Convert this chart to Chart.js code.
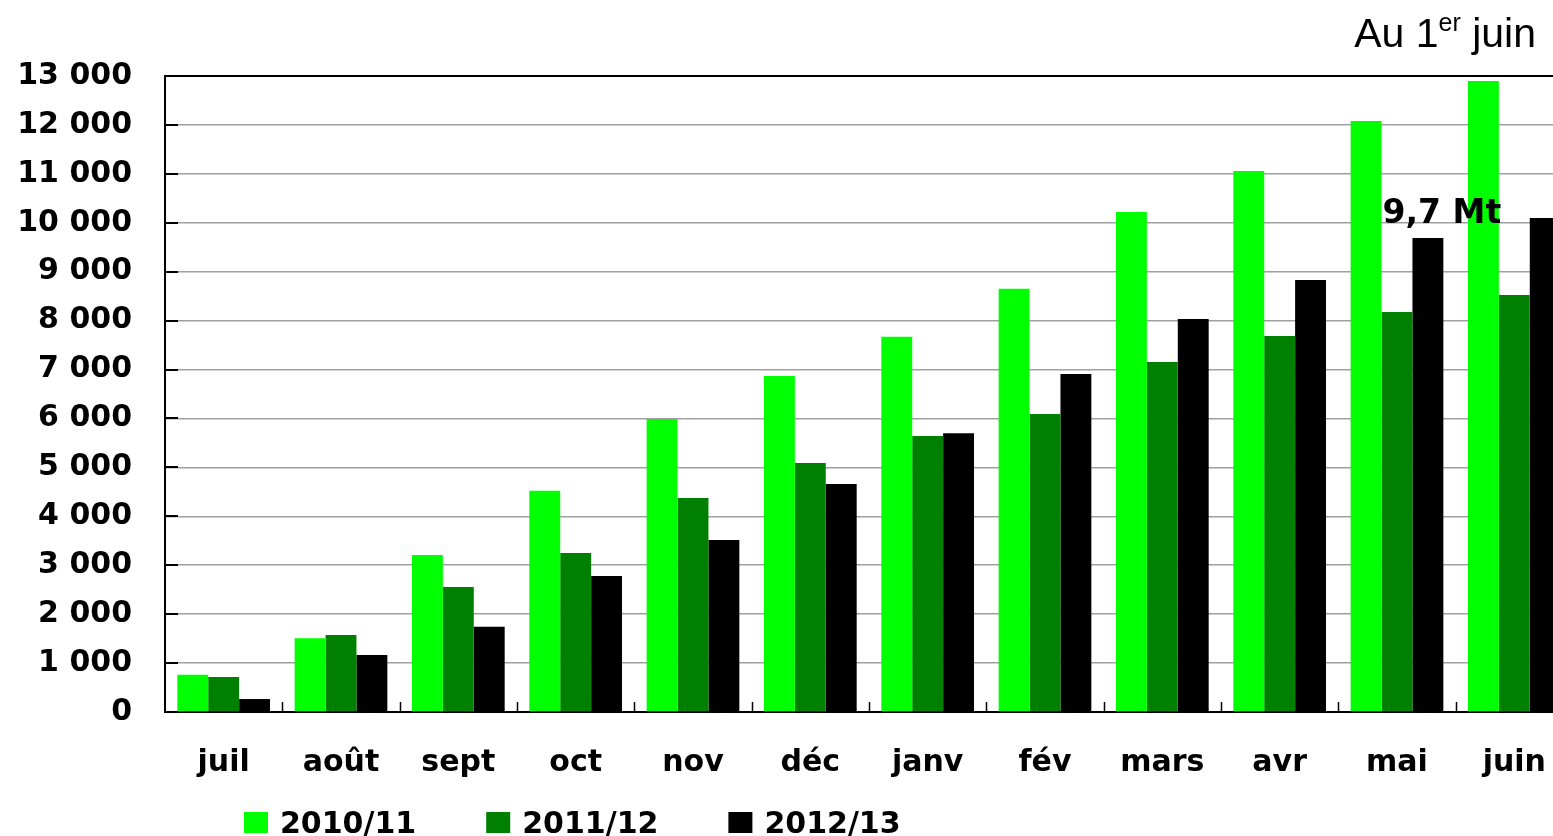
<!DOCTYPE html>
<html>
<head>
<meta charset="utf-8">
<script src="https://cdn.jsdelivr.net/npm/chart.js@4/dist/chart.umd.min.js"></script>
<style>
  html, body { margin: 0; padding: 0; background: #fff; }
  #wrap { width: 1553px; height: 836px; overflow: hidden; position: relative; }
  canvas { display: block; }
</style>
</head>
<body>
<div id="wrap"><canvas id="chart" width="1590" height="836"></canvas></div>
<script>
const months = ["juil", "août", "sept", "oct", "nov", "déc", "janv", "fév", "mars", "avr", "mai", "juin"];
const seasons = ["2010/11", "2011/12", "2012/13"];
const colors = ["#00ff00", "#008000", "#000000"];

const s2010 = [760, 1510, 3210, 4520, 5990, 6870, 7670, 8650, 10220, 11060, 12080, 12900];
const s2011 = [715, 1575, 2555, 3250, 4375, 5090, 5640, 6090, 7155, 7685, 8175, 8525];
const s2012 = [265, 1165, 1740, 2780, 3515, 4660, 5700, 6910, 8035, 8830, 9690, 10100];

const yTicks = [0, 1000, 2000, 3000, 4000, 5000, 6000, 7000, 8000, 9000, 10000, 11000, 12000, 13000];
const note = "9,7 Mt";
const noteIndex = 10;

const FONT = "'DejaVu Sans', sans-serif";
Chart.defaults.font.family = FONT;
Chart.defaults.color = "#000";

function fmt(v) {
  return String(v).replace(/\B(?=(\d{3})+(?!\d))/g, " ");
}

const extras = {
  id: "extras",
  afterDatasetsDraw(chart) {
    const ctx = chart.ctx;
    const area = chart.chartArea;
    const x = chart.scales.x;
    const y = chart.scales.y;
    ctx.save();

    // inner tick marks on the value axis
    ctx.strokeStyle = "#000";
    ctx.lineWidth = 2;
    yTicks.forEach(v => {
      if (v === 0 || v === 13000) return;
      const py = Math.round(y.getPixelForValue(v));
      ctx.beginPath();
      ctx.moveTo(area.left, py);
      ctx.lineTo(area.left + 13, py);
      ctx.stroke();
    });

    // inner tick marks between months
    ctx.lineWidth = 1.5;
    for (let i = 1; i < months.length; i++) {
      const px = Math.round((x.getPixelForValue(i - 1) + x.getPixelForValue(i)) / 2) + 0.5;
      ctx.beginPath();
      ctx.moveTo(px, area.bottom);
      ctx.lineTo(px, area.bottom - 10);
      ctx.stroke();
    }

    // note above the May bar
    const bar = chart.getDatasetMeta(2).data[noteIndex];
    ctx.fillStyle = "#000";
    ctx.font = "bold 33px " + FONT;
    ctx.textAlign = "center";
    ctx.textBaseline = "alphabetic";
    ctx.fillText(note, bar.x + 14, bar.y - 15);

    // date in the top right corner
    const big = "41px 'Liberation Sans', Arial, sans-serif";
    const small = "25px 'Liberation Sans', Arial, sans-serif";
    ctx.textAlign = "left";
    ctx.font = big;
    const w1 = ctx.measureText("Au 1").width;
    const w3 = ctx.measureText(" juin").width;
    ctx.font = small;
    const w2 = ctx.measureText("er").width;
    let tx = 1536 - (w1 + w2 + w3);
    ctx.font = big;
    ctx.fillText("Au 1", tx, 47);
    ctx.font = small;
    ctx.fillText("er", tx + w1, 31);
    ctx.font = big;
    ctx.fillText(" juin", tx + w1 + w2, 47);

    // legend
    ctx.font = "bold 30px " + FONT;
    let lx = 244;
    chart.data.datasets.forEach(ds => {
      ctx.fillStyle = ds.backgroundColor;
      ctx.fillRect(lx, 812, 24, 21);
      ctx.fillStyle = "#000";
      ctx.fillText(ds.label, lx + 36, 833);
      lx += 36 + ctx.measureText(ds.label).width + 70;
    });

    ctx.restore();
  }
};

new Chart(document.getElementById("chart"), {
  type: "bar",
  data: {
    labels: months,
    datasets: [
      { label: seasons[0], data: s2010, backgroundColor: colors[0] },
      { label: seasons[1], data: s2011, backgroundColor: colors[1] },
      { label: seasons[2], data: s2012, backgroundColor: colors[2] }
    ]
  },
  options: {
    responsive: false,
    animation: false,
    events: [],
    datasets: {
      bar: { categoryPercentage: 0.79, barPercentage: 1.0, borderWidth: 0 }
    },
    layout: { padding: { top: 76, right: 17, bottom: 0, left: 0 } },
    plugins: {
      legend: { display: false },
      tooltip: { enabled: false }
    },
    scales: {
      x: {
        grid: { display: false, drawTicks: false },
        border: { color: "#000", width: 2 },
        ticks: { font: { size: 30, weight: "bold" }, padding: 33, maxRotation: 0, autoSkip: false },
        afterFit(scale) { scale.height = 124; }
      },
      y: {
        min: 0,
        max: 13000,
        afterBuildTicks(scale) { scale.ticks = yTicks.map(v => ({ value: v })); },
        grid: {
          drawTicks: false,
          color: c => (c.tick && c.tick.value === 13000) ? "#000" : "#a0a0a0",
          lineWidth: c => (c.tick && c.tick.value === 13000) ? 2 : 1.5
        },
        border: { color: "#000", width: 2 },
        ticks: {
          font: { size: 30, weight: "bold" },
          padding: 33,
          callback: v => fmt(v)
        },
        afterFit(scale) { scale.width = 165; }
      }
    }
  },
  plugins: [extras]
});
</script>
</body>
</html>
